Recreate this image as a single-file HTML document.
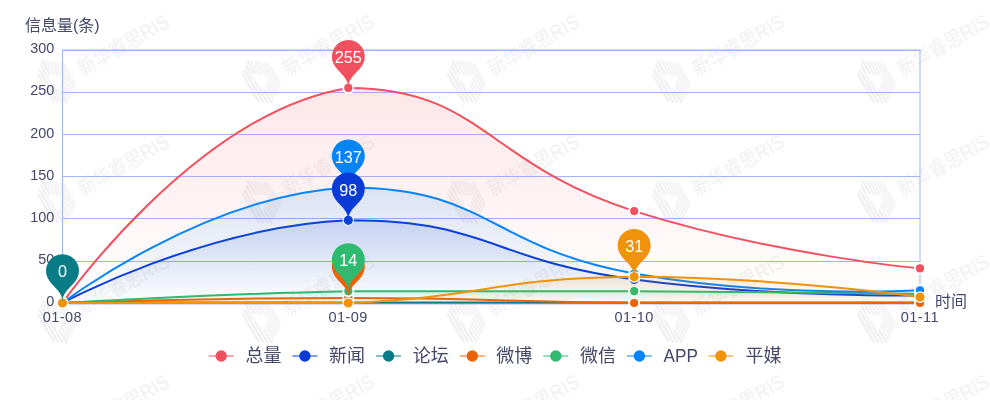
<!DOCTYPE html>
<html lang="zh"><head><meta charset="utf-8"><title>chart</title>
<style>
html,body{margin:0;padding:0;background:#fff;}
body{width:990px;height:400px;overflow:hidden;font-family:"Liberation Sans",sans-serif;}
svg{display:block;will-change:transform;}
</style></head><body>
<svg width="990" height="400" viewBox="0 0 990 400"><g id="watermark"><defs><pattern id="wmp" patternUnits="userSpaceOnUse" x="31.5" y="6.75" width="205" height="120"><g transform="translate(25 75) rotate(-30)" fill="#eeeeee"><rect x="-13.5" y="-16.65" width="2.2" height="33.16"/><rect x="-9.9" y="-19.6" width="2.2" height="38.63"/><rect x="-6.3" y="-22.56" width="2.2" height="44.11"/><rect x="-2.7" y="-25.51" width="2.2" height="49.44"/><rect x="1" y="-23.79" width="1.4" height="45.41"/><rect x="3.7" y="-21.57" width="1.4" height="41.3"/><rect x="6.4" y="-19.36" width="1.4" height="37.2"/><rect x="9.1" y="-17.14" width="1.4" height="33.09"/><rect x="11.8" y="-14.93" width="1.4" height="28.99"/><rect x="14.4" y="-12.88" width="1.2" height="25.19"/><path d="M-5.5 -12.5L8.5 -2L-3.5 9.5Z" fill="#fff"/><text transform="translate(25.2 8.8) scale(1 1.13)" font-family="Liberation Sans, Noto Sans CJK SC, sans-serif" font-size="18" fill="#f0f0f0">新华睿思RIS</text></g></pattern></defs><rect x="0" y="0" width="990" height="400" fill="url(#wmp)"/></g><g fill="#a2b5fc"><rect x="62" y="50" width="858.5" height="1"/><rect x="62" y="92" width="858.5" height="1"/><rect x="62" y="134" width="858.5" height="1"/><rect x="62" y="176" width="858.5" height="1"/><rect x="62" y="218" width="858.5" height="1"/><rect x="62" y="261" width="858.5" height="1"/><rect x="62" y="303" width="858.5" height="1"/><rect x="62" y="50" width="1" height="254"/><rect x="62" y="304" width="858.5" height=".5"/></g><rect x="62.5" y="50" width="857.5" height="253" fill="none" stroke="#a2b5fc" stroke-width="1"/><g font-family="Liberation Sans, sans-serif" font-size="15.2" fill="#434869"><text transform="translate(54.4 53.2) scale(.95 1)" text-anchor="end">300</text><text transform="translate(54.4 95.37) scale(.95 1)" text-anchor="end">250</text><text transform="translate(54.4 137.53) scale(.95 1)" text-anchor="end">200</text><text transform="translate(54.4 179.7) scale(.95 1)" text-anchor="end">150</text><text transform="translate(54.4 221.87) scale(.95 1)" text-anchor="end">100</text><text transform="translate(54.4 264.03) scale(.95 1)" text-anchor="end">50</text><text transform="translate(54.4 306.2) scale(.95 1)" text-anchor="end">0</text></g><g font-family="Liberation Sans, sans-serif" font-size="15.3" letter-spacing=".45" fill="#434869"><text transform="translate(62.4 322.1) scale(.95 1)" text-anchor="middle">01-08</text><text transform="translate(348.23 322.1) scale(.95 1)" text-anchor="middle">01-09</text><text transform="translate(634.07 322.1) scale(.95 1)" text-anchor="middle">01-10</text><text transform="translate(919.9 322.1) scale(.95 1)" text-anchor="middle">01-11</text></g><g font-family="Liberation Sans, Noto Sans CJK SC, sans-serif" font-size="16" fill="#434869"><text x="25" y="31">信息量(条)</text><text x="935" y="307">时间</text></g><defs><linearGradient id="g0" gradientUnits="userSpaceOnUse" x1="0" y1="87.95" x2="0" y2="303"><stop offset="0" stop-color="#f2505f" stop-opacity=".14"/><stop offset="1" stop-color="#f2505f" stop-opacity="0"/></linearGradient><linearGradient id="g1" gradientUnits="userSpaceOnUse" x1="0" y1="220.35" x2="0" y2="303"><stop offset="0" stop-color="#0a3bd6" stop-opacity=".14"/><stop offset="1" stop-color="#0a3bd6" stop-opacity="0"/></linearGradient><linearGradient id="g2" gradientUnits="userSpaceOnUse" x1="0" y1="302.49" x2="0" y2="303"><stop offset="0" stop-color="#077c87" stop-opacity=".14"/><stop offset="1" stop-color="#077c87" stop-opacity="0"/></linearGradient><linearGradient id="g3" gradientUnits="userSpaceOnUse" x1="0" y1="297.94" x2="0" y2="303"><stop offset="0" stop-color="#eb6309" stop-opacity=".14"/><stop offset="1" stop-color="#eb6309" stop-opacity="0"/></linearGradient><linearGradient id="g4" gradientUnits="userSpaceOnUse" x1="0" y1="291.19" x2="0" y2="303"><stop offset="0" stop-color="#2fba6f" stop-opacity=".14"/><stop offset="1" stop-color="#2fba6f" stop-opacity="0"/></linearGradient><linearGradient id="g5" gradientUnits="userSpaceOnUse" x1="0" y1="187.46" x2="0" y2="303"><stop offset="0" stop-color="#0684fa" stop-opacity=".14"/><stop offset="1" stop-color="#0684fa" stop-opacity="0"/></linearGradient><linearGradient id="g6" gradientUnits="userSpaceOnUse" x1="0" y1="276.86" x2="0" y2="303"><stop offset="0" stop-color="#f0920a" stop-opacity=".14"/><stop offset="1" stop-color="#f0920a" stop-opacity="0"/></linearGradient></defs><path d="M62.5 303C62.5 303 195.49 112.53 348.33 87.95C481.32 87.95 486.58 164.48 634.17 211.08C772.41 254.72 920 268.42 920 268.42L920 303L62.5 303Z" fill="url(#g0)"/><path d="M62.5 303C62.5 303 195.49 112.53 348.33 87.95C481.32 87.95 486.58 164.48 634.17 211.08C772.41 254.72 920 268.42 920 268.42" fill="none" stroke="#f2505f" stroke-width="2" stroke-linejoin="bevel"/><circle cx="62.5" cy="303" r="5.05" fill="#f2505f" stroke="#fff" stroke-width="1.9"/><circle cx="348.33" cy="87.95" r="5.05" fill="#f2505f" stroke="#fff" stroke-width="1.9"/><circle cx="634.17" cy="211.08" r="5.05" fill="#f2505f" stroke="#fff" stroke-width="1.9"/><circle cx="920" cy="268.42" r="5.05" fill="#f2505f" stroke="#fff" stroke-width="1.9"/><path d="M62.5 303C62.5 303 204.04 226.31 348.33 220.35C489.87 220.35 489.87 260.44 634.17 279.39C775.7 297.97 920 295.41 920 295.41L920 303L62.5 303Z" fill="url(#g1)"/><path d="M62.5 303C62.5 303 204.04 226.31 348.33 220.35C489.87 220.35 489.87 260.44 634.17 279.39C775.7 297.97 920 295.41 920 295.41" fill="none" stroke="#0a3bd6" stroke-width="2" stroke-linejoin="bevel"/><circle cx="62.5" cy="303" r="5.2" fill="#0a3bd6" stroke="#fff" stroke-width="1.2"/><circle cx="348.33" cy="220.35" r="5.2" fill="#0a3bd6" stroke="#fff" stroke-width="1.2"/><circle cx="634.17" cy="279.39" r="5.2" fill="#0a3bd6" stroke="#fff" stroke-width="1.2"/><circle cx="920" cy="295.41" r="5.2" fill="#0a3bd6" stroke="#fff" stroke-width="1.2"/><path d="M62.5 302.49C62.5 302.49 205.42 302.49 348.33 302.49C491.25 302.49 491.25 302.49 634.17 302.49C777.08 302.49 920 302.49 920 302.49L920 303L62.5 303Z" fill="url(#g2)"/><path d="M62.5 302.49C62.5 302.49 205.42 302.49 348.33 302.49C491.25 302.49 491.25 302.49 634.17 302.49C777.08 302.49 920 302.49 920 302.49" fill="none" stroke="#077c87" stroke-width="2" stroke-linejoin="bevel"/><circle cx="62.5" cy="302.49" r="5.05" fill="#077c87" stroke="#fff" stroke-width="1.9"/><circle cx="348.33" cy="302.49" r="5.05" fill="#077c87" stroke="#fff" stroke-width="1.9"/><circle cx="634.17" cy="302.49" r="5.05" fill="#077c87" stroke="#fff" stroke-width="1.9"/><circle cx="920" cy="302.49" r="5.05" fill="#077c87" stroke="#fff" stroke-width="1.9"/><path d="M62.5 303C62.5 303 205.42 297.94 348.33 297.94C491.25 297.94 491.24 301.73 634.17 303C777.07 303 920 303 920 303L920 303L62.5 303Z" fill="url(#g3)"/><path d="M62.5 303C62.5 303 205.42 297.94 348.33 297.94C491.25 297.94 491.24 301.73 634.17 303C777.07 303 920 303 920 303" fill="none" stroke="#eb6309" stroke-width="2" stroke-linejoin="bevel"/><circle cx="62.5" cy="303" r="5.05" fill="#eb6309" stroke="#fff" stroke-width="1.9"/><circle cx="348.33" cy="297.94" r="5.05" fill="#eb6309" stroke="#fff" stroke-width="1.9"/><circle cx="634.17" cy="303" r="5.05" fill="#eb6309" stroke="#fff" stroke-width="1.9"/><circle cx="920" cy="303" r="5.05" fill="#eb6309" stroke="#fff" stroke-width="1.9"/><path d="M62.5 303C62.5 303 205.36 294.15 348.33 291.19C491.19 291.19 491.25 291.19 634.17 291.19C777.09 291.83 920 293.72 920 293.72L920 303L62.5 303Z" fill="url(#g4)"/><path d="M62.5 303C62.5 303 205.36 294.15 348.33 291.19C491.19 291.19 491.25 291.19 634.17 291.19C777.09 291.83 920 293.72 920 293.72" fill="none" stroke="#2fba6f" stroke-width="2" stroke-linejoin="bevel"/><circle cx="62.5" cy="303" r="5.05" fill="#2fba6f" stroke="#fff" stroke-width="1.9"/><circle cx="348.33" cy="291.19" r="5.05" fill="#2fba6f" stroke="#fff" stroke-width="1.9"/><circle cx="634.17" cy="291.19" r="5.05" fill="#2fba6f" stroke="#fff" stroke-width="1.9"/><circle cx="920" cy="293.72" r="5.05" fill="#2fba6f" stroke="#fff" stroke-width="1.9"/><path d="M62.5 303C62.5 303 203.11 194.96 348.33 187.46C488.94 187.46 488.28 247.23 634.17 273.48C774.11 298.67 920 290.35 920 290.35L920 303L62.5 303Z" fill="url(#g5)"/><path d="M62.5 303C62.5 303 203.11 194.96 348.33 187.46C488.94 187.46 488.28 247.23 634.17 273.48C774.11 298.67 920 290.35 920 290.35" fill="none" stroke="#0684fa" stroke-width="2" stroke-linejoin="bevel"/><circle cx="62.5" cy="303" r="5.05" fill="#0684fa" stroke="#fff" stroke-width="1.9"/><circle cx="348.33" cy="187.46" r="5.05" fill="#0684fa" stroke="#fff" stroke-width="1.9"/><circle cx="634.17" cy="273.48" r="5.05" fill="#0684fa" stroke="#fff" stroke-width="1.9"/><circle cx="920" cy="290.35" r="5.05" fill="#0684fa" stroke="#fff" stroke-width="1.9"/><path d="M62.5 303C62.5 303 205.71 303 348.33 303C491.55 296.45 491.13 278.33 634.17 276.86C776.96 276.86 920 297.1 920 297.1L920 303L62.5 303Z" fill="url(#g6)"/><path d="M62.5 303C62.5 303 205.71 303 348.33 303C491.55 296.45 491.13 278.33 634.17 276.86C776.96 276.86 920 297.1 920 297.1" fill="none" stroke="#f0920a" stroke-width="2" stroke-linejoin="bevel"/><circle cx="62.5" cy="303" r="5.2" fill="#f0920a" stroke="#fff" stroke-width="1.2"/><circle cx="348.33" cy="303" r="5.2" fill="#f0920a" stroke="#fff" stroke-width="1.2"/><circle cx="634.17" cy="276.86" r="5.2" fill="#f0920a" stroke="#fff" stroke-width="1.2"/><circle cx="920" cy="297.1" r="5.2" fill="#f0920a" stroke="#fff" stroke-width="1.2"/><g font-family="Liberation Sans, sans-serif" font-size="16.2"><path d="M333.43 63.59A16.5 16.5 0 1 1 363.24 63.59C359 72.54 348.33 76.4 348.33 87.95C348.33 76.4 337.67 72.54 333.43 63.59Z" fill="#f2505f"/><text x="348.33" y="63.12" text-anchor="middle" fill="#fff">255</text><path d="M333.43 163.11A16.5 16.5 0 1 1 363.24 163.11C359 172.05 348.33 175.91 348.33 187.46C348.33 175.91 337.67 172.05 333.43 163.11Z" fill="#0684fa"/><text x="348.33" y="162.63" text-anchor="middle" fill="#fff">137</text><path d="M333.43 196A16.5 16.5 0 1 1 363.24 196C359 204.94 348.33 208.8 348.33 220.35C348.33 208.8 337.67 204.94 333.43 196Z" fill="#0a3bd6"/><text x="348.33" y="195.52" text-anchor="middle" fill="#fff">98</text><path d="M47.59 277.8A16.5 16.5 0 1 1 77.41 277.8C73.17 286.74 62.5 290.61 62.5 302.16C62.5 290.61 51.83 286.74 47.59 277.8Z" fill="#077c87"/><text x="62.5" y="277.33" text-anchor="middle" fill="#fff">0</text><path d="M333.43 273.58A16.5 16.5 0 1 1 363.24 273.58C359 282.53 348.33 286.39 348.33 297.94C348.33 286.39 337.67 282.53 333.43 273.58Z" fill="#eb6309"/><text x="348.33" y="273.11" text-anchor="middle" fill="#fff">6</text><path d="M333.43 266.84A16.5 16.5 0 1 1 363.24 266.84C359 275.78 348.33 279.64 348.33 291.19C348.33 279.64 337.67 275.78 333.43 266.84Z" fill="#2fba6f"/><text x="348.33" y="266.36" text-anchor="middle" fill="#fff">14</text><path d="M619.26 252.5A16.5 16.5 0 1 1 649.07 252.5C644.83 261.44 634.17 265.31 634.17 276.86C634.17 265.31 623.5 261.44 619.26 252.5Z" fill="#f0920a"/><text x="634.17" y="252.03" text-anchor="middle" fill="#fff">31</text></g><rect x="208.7" y="355" width="25" height="2" fill="#f2505f" opacity=".5"/><circle cx="221.2" cy="356" r="5.7" fill="#f2505f"/><text x="245.4" y="361.6" font-family="Liberation Sans, Noto Sans CJK SC, sans-serif" font-size="18" fill="#434869">总量</text><rect x="292.4" y="355" width="25" height="2" fill="#0a3bd6" opacity=".5"/><circle cx="304.9" cy="356" r="5.7" fill="#0a3bd6"/><text x="329" y="361.6" font-family="Liberation Sans, Noto Sans CJK SC, sans-serif" font-size="18" fill="#434869">新闻</text><rect x="376.1" y="355" width="25" height="2" fill="#077c87" opacity=".5"/><circle cx="388.6" cy="356" r="5.7" fill="#077c87"/><text x="412.8" y="361.6" font-family="Liberation Sans, Noto Sans CJK SC, sans-serif" font-size="18" fill="#434869">论坛</text><rect x="459.8" y="355" width="25" height="2" fill="#eb6309" opacity=".5"/><circle cx="472.3" cy="356" r="5.7" fill="#eb6309"/><text x="496.3" y="361.6" font-family="Liberation Sans, Noto Sans CJK SC, sans-serif" font-size="18" fill="#434869">微博</text><rect x="543.3" y="355" width="25" height="2" fill="#2fba6f" opacity=".5"/><circle cx="555.8" cy="356" r="5.7" fill="#2fba6f"/><text x="580" y="361.6" font-family="Liberation Sans, Noto Sans CJK SC, sans-serif" font-size="18" fill="#434869">微信</text><rect x="626.9" y="355" width="25" height="2" fill="#0684fa" opacity=".5"/><circle cx="639.4" cy="356" r="5.7" fill="#0684fa"/><text transform="translate(663.5 361.6) scale(.96 1)" font-family="Liberation Sans, sans-serif" font-size="17.9" fill="#434869">APP</text><rect x="708.4" y="355" width="25" height="2" fill="#f0920a" opacity=".5"/><circle cx="720.9" cy="356" r="5.7" fill="#f0920a"/><text x="745.5" y="361.6" font-family="Liberation Sans, Noto Sans CJK SC, sans-serif" font-size="18" fill="#434869">平媒</text></svg>
</body></html>
